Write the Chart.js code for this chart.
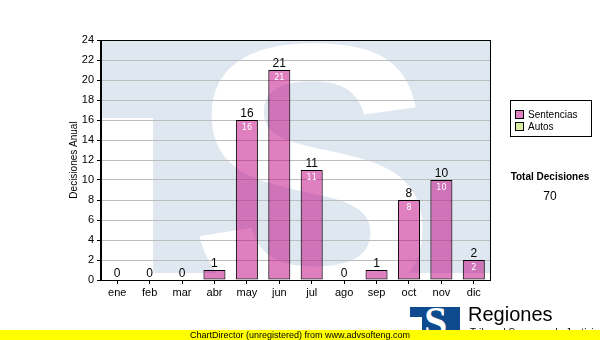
<!DOCTYPE html>
<html>
<head>
<meta charset="utf-8">
<script src="https://cdn.jsdelivr.net/npm/chart.js@4.4.1/dist/chart.umd.min.js"></script>
<style>
  html, body { margin: 0; padding: 0; background: #fff; }
  #wrap { position: relative; width: 600px; height: 340px; overflow: hidden; font-family: "Liberation Sans", Arial, sans-serif; }
  #c { position: absolute; left: 0; top: 0; }
  .abs { position: absolute; white-space: nowrap; }
  #legend { left: 510px; top: 100px; width: 80px; height: 35px; border: 1px solid #000; background: #fff; font-size: 10px; }
  .item { position: absolute; left: 4px; height: 12px; line-height: 12px; }
  .sw { display: inline-block; width: 7px; height: 7px; border: 1px solid #000; vertical-align: -1px; margin-right: 4px; }
  #total { left: 500px; width: 100px; top: 171px; text-align: center; font-weight: bold; font-size: 10px; }
  #totalv { left: 500px; width: 100px; top: 189px; text-align: center; font-size: 12px; }
  #logo { left: 410px; top: 307px; width: 50px; height: 30px; background: #0d4a8e; overflow: hidden; }
  #logo span { position: absolute; left: 14px; top: -9px; font: bold 42px "Liberation Serif", serif; color: #fff; }
  #logo i { position: absolute; left: 0; top: 10px; width: 12px; height: 30px; background: #fff; }
  #reg { left: 468px; top: 303px; font-size: 20px; color: #000; }
  #sub { left: 470px; top: 327px; font-size: 10px; color: #000; }
  #bar { left: 0; top: 330px; width: 600px; height: 10px; background: #ffff00; z-index: 5; text-align: center; font-size: 9px; line-height: 10px; color: #000; }
</style>
</head>
<body>
<div id="wrap">
  <canvas id="c" width="600" height="340"></canvas>
  <div id="legend" class="abs">
    <div class="item" style="top:8px"><span class="sw" style="background:#e080c0"></span>Sentencias</div>
    <div class="item" style="top:20px"><span class="sw" style="background:#d8eca0"></span>Autos</div>
  </div>
  <div id="total" class="abs">Total Decisiones</div>
  <div id="totalv" class="abs">70</div>
  <div id="logo" class="abs"><i></i><span>S</span></div>
  <div id="reg" class="abs">Regiones</div>
  <div id="sub" class="abs">Tribunal Supremo de Justicia</div>
  <div id="bar" class="abs">ChartDirector (unregistered) from www.advsofteng.com</div>
</div>
<script>
const months = ['ene','feb','mar','abr','may','jun','jul','ago','sep','oct','nov','dic'];
const sentencias = [0,0,0,1,16,21,11,0,1,8,10,2];
const autos = [0,0,0,0,0,0,0,0,0,0,0,0];
const yMin = 0, yMax = 24, yStep = 2;
const yTitle = 'Decisiones Anual';

const watermark = {
  id: 'watermark',
  beforeDraw(chart) {
    const { ctx, chartArea: a } = chart;
    ctx.save();
    ctx.fillStyle = '#fff';
    ctx.fillRect(0, 0, chart.width, chart.height);
    ctx.beginPath();
    ctx.rect(a.left, a.top, a.right - a.left, a.bottom - a.top);
    ctx.clip();
    ctx.fillStyle = '#dfe8f1';
    ctx.fillRect(a.left, a.top, a.right - a.left, 273 - a.top);
    ctx.fillStyle = '#fff';
    ctx.fillRect(a.left, 118, 153 - a.left, 200);
    ctx.font = 'bold 372px "Liberation Sans", Arial, sans-serif';
    ctx.textAlign = 'center';
    ctx.textBaseline = 'alphabetic';
    ctx.fillText('S', 313, 303);
    ctx.restore();
  }
};

const frame = {
  id: 'frame',
  beforeDatasetsDraw(chart) {
    const { ctx, chartArea: a } = chart;
    ctx.save();
    ctx.strokeStyle = '#000';
    ctx.lineWidth = 1;
    ctx.strokeRect(a.left - 0.5, a.top + 0.5, a.right - a.left + 1, a.bottom - a.top);
    ctx.restore();
    ctx.save();
    ctx.translate(74, 160);
    ctx.rotate(-Math.PI / 2);
    ctx.font = '10px "Liberation Sans", Arial, sans-serif';
    ctx.fillStyle = '#000';
    ctx.textAlign = 'center';
    ctx.textBaseline = 'middle';
    ctx.fillText(yTitle, 0, 0);
    ctx.restore();
  }
};

const valueLabels = {
  id: 'valueLabels',
  afterDatasetsDraw(chart) {
    const { ctx } = chart;
    const xs = chart.scales.x, ys = chart.scales.y;
    ctx.save();
    ctx.textAlign = 'center';
    months.forEach((m, i) => {
      const total = sentencias[i] + autos[i];
      const x = xs.getPixelForValue(i);
      const yTop = ys.getPixelForValue(total);
      ctx.fillStyle = '#000';
      ctx.font = '12px "Liberation Sans", Arial, sans-serif';
      ctx.textBaseline = 'bottom';
      ctx.fillText(String(total), x, yTop);
      if (sentencias[i] >= 2) {
        ctx.fillStyle = '#fff';
        ctx.font = '8px "DejaVu Sans", Verdana, sans-serif';
        ctx.textBaseline = 'top';
        ctx.fillText(String(sentencias[i]), x, ys.getPixelForValue(sentencias[i]) + 4);
      }
    });
    ctx.restore();
  }
};

new Chart(document.getElementById('c'), {
  type: 'bar',
  data: {
    labels: months,
    datasets: [
      {
        label: 'Sentencias',
        data: sentencias,
        backgroundColor: 'rgba(192,0,128,0.5)',
        borderColor: '#000',
        borderWidth: ctx => (ctx.raw > 0 ? 1 : 0),
        borderSkipped: false,
        barPercentage: 0.68,
        categoryPercentage: 1
      },
      {
        label: 'Autos',
        data: autos,
        backgroundColor: 'rgba(170,210,60,0.5)',
        borderColor: '#000',
        borderWidth: ctx => (ctx.raw > 0 ? 1 : 0),
        borderSkipped: false,
        barPercentage: 0.68,
        categoryPercentage: 1
      }
    ]
  },
  options: {
    responsive: false,
    animation: false,
    events: [],
    layout: { padding: { left: 0, top: 40, right: 110, bottom: 40 } },
    plugins: { legend: { display: false }, tooltip: { enabled: false }, title: { display: false } },
    scales: {
      x: {
        stacked: true,
        afterFit: s => { s.height = 20; },
        grid: { display: true, drawOnChartArea: false, offset: false, tickLength: 4, tickColor: '#000' },
        border: { display: true, color: '#000' },
        ticks: { color: '#000', padding: 2, font: { family: '"Liberation Sans", Arial, sans-serif', size: 11 }, maxRotation: 0, autoSkip: false }
      },
      y: {
        stacked: true,
        min: yMin, max: yMax,
        afterFit: s => { s.width = 101; },
        grid: { color: '#bdbdbd', tickLength: 4, tickColor: '#000' },
        border: { display: true, color: '#000' },
        ticks: { stepSize: yStep, color: '#000', padding: 3, font: { family: '"Liberation Sans", Arial, sans-serif', size: 11 } }
      }
    }
  },
  plugins: [watermark, frame, valueLabels]
});
</script>
</body>
</html>
